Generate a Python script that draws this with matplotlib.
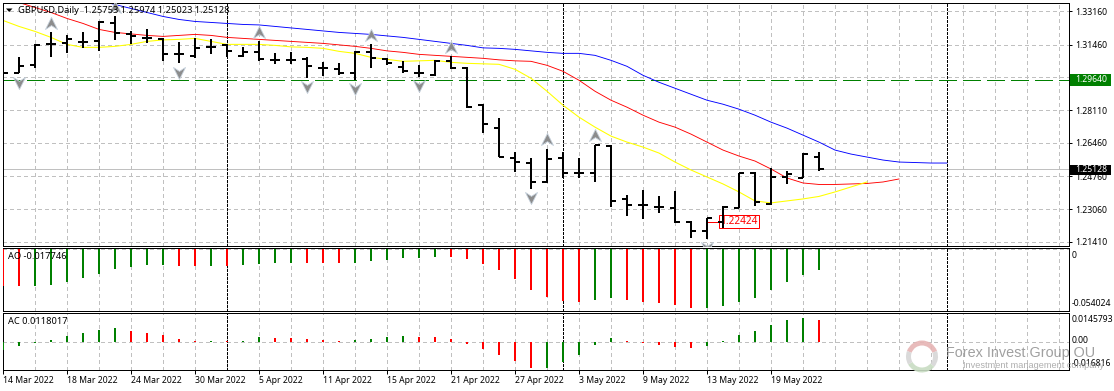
import matplotlib
matplotlib.use("Agg")
import matplotlib.pyplot as plt
import numpy as np
from matplotlib.patches import Rectangle, Polygon, Wedge
from matplotlib.path import Path

plt.rcParams['lines.scale_dashes'] = False
plt.rcParams['font.family'] = ['Noto Sans', 'DejaVu Sans']

# ------------------ data ------------------
opens = [1.30157,1.30004,1.30411,1.31480,1.31531,1.31582,1.31633,1.32549,1.31989,1.31786,1.31735,1.30971,1.30870,1.31328,1.31429,1.30870,1.31073,1.30666,1.30666,1.30717,1.30259,1.30208,1.30004,1.31073,1.30717,1.30310,1.30004,1.29902,1.30615,1.30259,1.28375,1.27205,1.25678,1.25423,1.24456,1.25678,1.24914,1.24914,1.26288,1.23591,1.23285,1.23184,1.23133,1.22420,1.21962,1.22420,1.23133,1.24914,1.23336,1.24711,1.24660,1.25753]
highs = [1.30768,1.30819,1.31480,1.32091,1.31938,1.32091,1.32651,1.32906,1.32142,1.32244,1.31786,1.31582,1.31786,1.31735,1.31480,1.31328,1.31633,1.31022,1.31073,1.30819,1.30564,1.30513,1.31124,1.31480,1.30768,1.30615,1.30411,1.30666,1.30870,1.30310,1.28426,1.27714,1.25983,1.25678,1.26135,1.25983,1.25678,1.26339,1.26339,1.23794,1.24049,1.23743,1.23998,1.22471,1.22624,1.23235,1.24914,1.24965,1.25169,1.25016,1.25932,1.25974]
lows = [1.30004,1.30004,1.30259,1.30819,1.31022,1.31277,1.31124,1.31684,1.31480,1.31531,1.30615,1.30513,1.30768,1.30971,1.30819,1.30819,1.30615,1.30462,1.30462,1.29750,1.29852,1.29902,1.29648,1.30259,1.30411,1.30004,1.29801,1.29852,1.30208,1.28223,1.26950,1.25729,1.24965,1.24100,1.24405,1.24660,1.24660,1.24456,1.23184,1.22725,1.22573,1.22878,1.22369,1.21606,1.21555,1.22115,1.23133,1.23235,1.23285,1.24355,1.24660,1.25023]
closes = [1.30004,1.30360,1.31429,1.31480,1.31735,1.31582,1.32600,1.32040,1.31887,1.31786,1.30971,1.30971,1.31277,1.31328,1.31124,1.31073,1.30717,1.30666,1.30666,1.30360,1.30259,1.30004,1.31073,1.30768,1.30513,1.30106,1.30004,1.30615,1.30259,1.28274,1.27408,1.25729,1.25474,1.24456,1.25627,1.24914,1.24914,1.26339,1.23489,1.23285,1.23285,1.23184,1.22420,1.21962,1.22624,1.23184,1.24914,1.23438,1.24711,1.24864,1.25881,1.25128]

jaw_first = 6
jaw = [1.33720,1.33516,1.33313,1.33109,1.32906,1.32753,1.32651,1.32600,1.32549,1.32498,1.32473,1.32397,1.32320,1.32244,1.32167,1.32091,1.32040,1.31989,1.31913,1.31837,1.31735,1.31633,1.31531,1.31429,1.31302,1.31277,1.31226,1.31149,1.31073,1.31022,1.31022,1.30920,1.30666,1.30360,1.29902,1.29546,1.29241,1.28935,1.28630,1.28426,1.28172,1.27866,1.27510,1.27205,1.26848,1.26492,1.26085,1.25881,1.25728,1.25576,1.25474,1.25449,1.25423,1.25423]
teeth = [1.33873,1.33618,1.33364,1.33109,1.32804,1.32549,1.32244,1.32091,1.32015,1.31938,1.31887,1.31938,1.31989,1.31938,1.31837,1.31786,1.31735,1.31684,1.31633,1.31582,1.31531,1.31455,1.31379,1.31277,1.31149,1.31073,1.30971,1.30920,1.30870,1.30819,1.30768,1.30691,1.30640,1.30615,1.30411,1.30106,1.29648,1.29088,1.28630,1.28274,1.27866,1.27510,1.27256,1.26899,1.26492,1.26085,1.25780,1.25525,1.25118,1.24660,1.24405,1.24329,1.24329,1.24355,1.24380,1.24456,1.24609]
lips = [1.32702,1.32397,1.32142,1.31837,1.31480,1.31328,1.31328,1.31379,1.31480,1.31633,1.31709,1.31735,1.31786,1.31633,1.31480,1.31480,1.31480,1.31429,1.31353,1.31328,1.31277,1.31124,1.31022,1.30819,1.30717,1.30615,1.30640,1.30666,1.30564,1.30513,1.30488,1.30462,1.30208,1.29750,1.29088,1.28375,1.27765,1.27256,1.26798,1.26492,1.26237,1.25932,1.25474,1.25067,1.24711,1.24355,1.23947,1.23489,1.23387,1.23489,1.23591,1.23718,1.23947,1.24202,1.24456]

ao = [-.0339,-.0339,-.0339,-.0330,-.0303,-.0267,-.0231,-.0186,-.0168,-.0150,-.0150,-.0159,-.0159,-.0159,-.0159,-.0150,-.0141,-.0132,-.0132,-.0132,-.0132,-.0132,-.0132,-.0114,-.0105,-.0087,-.0087,-.0078,-.0078,-.0096,-.0141,-.0195,-.0276,-.0375,-.0438,-.0474,-.0483,-.0465,-.0447,-.0465,-.0483,-.0492,-.0510,-.0537,-.0537,-.0519,-.0483,-.0447,-.0375,-.0303,-.0240,-.0195]
ao_colors = "rr" "ggggggggg" "rr" "g" "r" "gggg" "rrr" "gggggg" "rrrrrrrrr" "gg" "rrrrr" "gggggggg"
ac = [-.0052,-.0028,-.0010,.0008,.0032,.0056,.0074,.0086,.0068,.0056,.0038,.0014,.0004,.0004,.0004,.0006,.0026,.0020,.0020,.0014,.0008,.0004,.0008,.0014,.0026,.0032,.0026,.0026,.0014,-.0016,-.0046,-.0082,-.0124,-.0166,-.0166,-.0130,-.0082,-.0022,.0020,.0006,-.0010,-.0022,-.0034,-.0040,-.0028,.0004,.0038,.0068,.0104,.0134,.0146,.0134]
ac_colors = "gggggggg" "rrrrr" "g" "r" "gg" "rrrrr" "gggg" "rrrrrrrr" "ggggg" "rrrrr" "ggggggg" "r"

fractal_up = [3, 7, 16, 23, 28, 34, 37]
fractal_down = [1, 11, 19, 22, 26, 33, 44]

date_ticks = [0, 4, 8, 12, 16, 20, 24, 28, 32, 36, 40, 44, 48]
date_labels = ["14 Mar 2022","18 Mar 2022","24 Mar 2022","30 Mar 2022","5 Apr 2022","11 Apr 2022","15 Apr 2022","21 Apr 2022","27 Apr 2022","3 May 2022","9 May 2022","13 May 2022","19 May 2022"]
price_ticks = [1.33160, 1.31460, 1.29810, 1.28110, 1.26460, 1.24760, 1.23060, 1.21410]
price_labels = ["1.33160", "1.31460", "", "1.28110", "1.26460", "1.24760", "1.23060", "1.21410"]
level_price = 1.29640
last_price = 1.25128
low_mark = 1.22424
period_seps = [14, 35, 59]

# ------------------ layout ------------------
W, H = 1114, 391
fig = plt.figure(figsize=(W / 100, H / 100), dpi=100, facecolor='white')
PX = 0.72
L_PX, R_PX = 2.5, 1068.5
AXF = 8.6 * PX   # axis labels
LEGF = 9.3 * PX  # legends
BAR_W = 2.0 * PX
MA_W = 0.9 * PX

def panel(top, bottom):
    ax = fig.add_axes([L_PX / W, 1 - bottom / H, (R_PX - L_PX) / W, (bottom - top) / H])
    ax.set_xlim((L_PX - 3.0) / 16, (R_PX - 3.0) / 16)
    ax.set_xticks([])
    ax.set_yticks([])
    for s in ax.spines.values():
        s.set_linewidth(1.0 * PX)
        s.set_color('black')
    return ax

ax1 = panel(2.5, 245.8)
ax2 = panel(247.7, 310.6)
ax3 = panel(312.8, 370.3)
ax1.set_ylim(1.21198, 1.33618)
ax2.set_ylim(-0.0559, 0.0009)
ax3.set_ylim(-0.01806, 0.0180)

GREY = '#c0c0c0'
grid_dash = (0, (3.2 * PX, 3.2 * PX))
black_dash = (0, (2.6 * PX, 2.0 * PX))
for ax in (ax1, ax2, ax3):
    for g in np.arange(2, 67, 2):
        ax.axvline(g, color=GREY, lw=PX, ls=grid_dash, zorder=1, antialiased=False)
    for p in period_seps:
        ax.axvline(p, color='black', lw=PX, ls=black_dash, zorder=1.5, antialiased=False)
for t in price_ticks:
    ax1.axhline(t, color=GREY, lw=PX, ls=grid_dash, zorder=1, antialiased=False)
ax2.axhline(0, color=GREY, lw=PX, ls=grid_dash, zorder=1, antialiased=False)
ax3.axhline(0, color=GREY, lw=PX, ls=grid_dash, zorder=1, antialiased=False)

# levels
ax1.axhline(last_price, color=GREY, lw=PX, zorder=1.2, antialiased=False)
ax1.axhline(level_price, color='#008000', lw=PX, ls=(0, (18 * PX, 6 * PX)), zorder=1.6, antialiased=False)

# alligator lines
x_lips = np.arange(len(lips))
x_teeth = np.arange(len(teeth))
x_jaw = np.arange(len(jaw)) + jaw_first
ax1.plot(x_jaw, jaw, color='#0000ff', lw=MA_W, zorder=2)
ax1.plot(x_teeth, teeth, color='#ff0000', lw=MA_W, zorder=2.1)
ax1.plot(x_lips, lips, color='#ffff00', lw=MA_W * 1.2, zorder=2.2)

# ohlc bars
idx = np.arange(len(closes))
ax1.vlines(idx, lows, highs, color='black', lw=BAR_W, zorder=4, antialiased=True, snap=True)
ax1.hlines(opens, idx - 0.32, idx, color='black', lw=BAR_W, zorder=4, antialiased=True, snap=True)
ax1.hlines(closes, idx, idx + 0.32, color='black', lw=BAR_W, zorder=4, antialiased=True, snap=True)

# fractal arrows
up_path = Path([(0, 1), (1, -1), (0, -0.35), (-1, -1), (0, 1)], closed=True)
dn_path = Path([(0, -1), (1, 1), (0, 0.35), (-1, 1), (0, -1)], closed=True)
ax1.plot(fractal_up, [highs[i] + 0.0050 for i in fractal_up], ls='none', marker=up_path, ms=12 * PX,
         mfc='#8c8c8c', mec='#c4d0dc', mew=0.8 * PX, zorder=3)
ax1.plot(fractal_down, [lows[i] - 0.0047 for i in fractal_down], ls='none', marker=dn_path, ms=12 * PX,
         mfc='#8c8c8c', mec='#c4d0dc', mew=0.8 * PX, zorder=3)

# low price marker
ax1.hlines(low_mark, 44, 44.75, color='#ff0000', lw=PX, zorder=3, antialiased=False)
ax1.text(44.82, low_mark, "1.22424", color='#ff0000', fontsize=10 * PX, va='center', ha='left', zorder=3,
         bbox=dict(boxstyle='square,pad=0.12', fc='white', ec='#ff0000', lw=PX))

# oscillators
col = {'g': '#008000', 'r': '#ff0000'}
ax2.vlines(idx, 0, ao, colors=[col[c] for c in ao_colors], lw=BAR_W, zorder=3, antialiased=True, snap=True)
ax3.vlines(idx, 0, ac, colors=[col[c] for c in ac_colors], lw=BAR_W, zorder=3, antialiased=True, snap=True)

# axis ticks
ax1.yaxis.tick_right()
ax1.set_yticks(price_ticks)
ax1.set_yticklabels(price_labels, fontsize=AXF, color='black')
ax1.tick_params(axis='y', length=3 * PX, width=PX, pad=3.5 * PX)
ax3.set_xticks(date_ticks)
ax3.set_xticklabels(date_labels, fontsize=AXF, ha='left')
ax3.tick_params(axis='x', length=3.5 * PX, width=PX, pad=2 * PX)

# ------------------ overlay in pixel space ------------------
ov = fig.add_axes([0, 0, 1, 1], zorder=10)
ov.set_xlim(0, W)
ov.set_ylim(H, 0)
ov.axis('off')
ov.patch.set_alpha(0)

ov.add_patch(Polygon([(6, 8.5), (12.5, 8.5), (9.2, 12)], closed=True, fc='black', ec='none'))
ov.text(18, 10.8, "GBPUSD,Daily  1.25753 1.25974 1.25023 1.25128", fontsize=LEGF, va='center', ha='left', color='black')
ov.text(7.5, 256.5, "AO -0.017746", fontsize=LEGF, va='center', ha='left', color='black')
ov.text(7.5, 321.5, "AC 0.0118017", fontsize=LEGF, va='center', ha='left', color='black')

ov.add_patch(Rectangle((1070, 74), 41, 11.5, fc='#008000', ec='none'))
ov.text(1075, 79.7, "1.29640", fontsize=AXF, color='white', va='center', ha='left')
ov.add_patch(Rectangle((1070, 165), 41, 9.5, fc='black', ec='none'))
ov.text(1075, 169.7, "1.25128", fontsize=AXF, color='white', va='center', ha='left')

ov.text(1072, 255, "0", fontsize=AXF, va='center', ha='left')
ov.text(1072, 303.5, "-0.054024", fontsize=AXF, va='center', ha='left')
ov.text(1072, 319.5, "0.0145793", fontsize=AXF, va='center', ha='left')
ov.text(1072, 340.3, "0.00", fontsize=AXF, va='center', ha='left')
ov.text(1072, 363.5, "-0.016816", fontsize=AXF, va='center', ha='left')

# watermark
cx, cy, r = 922, 356.5, 16
for a, b, c in [(200, 340, '#e6b4b4'), (340, 40, '#d6d6d6'), (40, 150, '#c8dcc2'), (150, 200, '#d6d6d6')]:
    ov.add_patch(Wedge((cx, cy), r, a, b, width=5, fc=c, ec='none', alpha=0.9))

def fitted(x, y, s, width_px, size_px, color, alpha):
    t = ov.text(x, y, s, fontsize=size_px * PX, color=color, alpha=alpha, va='center', ha='left',
                family='Liberation Sans')
    fig.canvas.draw()
    w = t.get_window_extent().width
    t.set_fontsize(size_px * PX * width_px / w)
    return t

fitted(946, 352.5, "Forex Invest Group OU", 149, 14, '#808080', 0.75)
fitted(963, 366, "Investment management company", 140, 9, '#9a9a9a', 0.8)

fig.savefig("out.png", dpi=100)
